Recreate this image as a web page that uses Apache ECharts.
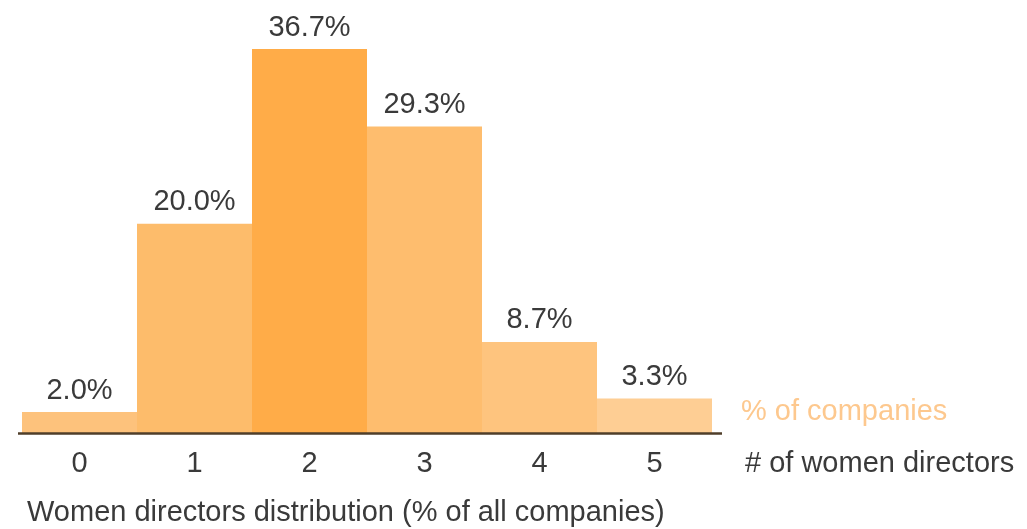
<!DOCTYPE html>
<html>
<head>
<meta charset="utf-8">
<script src="https://cdn.jsdelivr.net/npm/echarts@6/dist/echarts.min.js"></script>
<style>
html,body{margin:0;padding:0;background:#fff;}
#chart{width:1027px;height:529px;}
</style>
</head>
<body>
<div id="chart"></div>
<script>
const categories = ['0', '1', '2', '3', '4', '5'];
const values = [2.0, 20.0, 36.7, 29.3, 8.7, 3.3];
const barColors = ['#FDC27C', '#FDBC6B', '#FFAC48', '#FEBD6E', '#FEC47E', '#FECE94'];
const seriesName = '% of companies';
const xAxisName = '# of women directors';
const chartTitle = 'Women directors distribution (% of all companies)';

const font = 'Liberation Sans, Arial, sans-serif';
const fs = 29;
const chart = echarts.init(document.getElementById('chart'));
chart.setOption({
  animation: false,
  backgroundColor: '#fff',
  title: {
    text: chartTitle,
    left: 27,
    top: 498,
    padding: 0,
    textStyle: { fontFamily: font, fontSize: fs, fontWeight: 'normal', color: '#3a3a3a' }
  },
  legend: {
    data: [{ name: seriesName, icon: 'none' }],
    left: 736,
    top: 397,
    itemWidth: 0,
    itemHeight: 0,
    padding: 0,
    textStyle: { fontFamily: font, fontSize: fs, color: '#FDC88E' },
    selectedMode: false
  },
  grid: { left: 22, right: 315, top: 14.6, bottom: 96, containLabel: false },
  xAxis: {
    type: 'category',
    data: categories,
    name: xAxisName,
    nameLocation: 'end',
    nameGap: 33,
    nameTextStyle: { fontFamily: font, fontSize: fs, color: '#3a3a3a', verticalAlign: 'top', padding: [16, 0, 0, 0] },
    axisLine: { show: false },
    axisTick: { show: false },
    axisLabel: { fontFamily: font, fontSize: fs, color: '#3a3a3a', margin: 16 }
  },
  yAxis: {
    type: 'value',
    min: 0,
    max: 40,
    show: false
  },
  graphic: [{
    type: 'line',
    shape: { x1: 18, y1: 433.5, x2: 722, y2: 433.5 },
    style: { stroke: '#4f3e2a', lineWidth: 2.5 },
    z: 100
  }],
  series: [{
    name: seriesName,
    type: 'bar',
    barCategoryGap: 0,
    data: values.map((v, i) => ({ value: v, itemStyle: { color: barColors[i] } })),
    label: {
      show: true,
      position: 'top',
      distance: 7,
      fontFamily: font,
      fontSize: fs,
      color: '#3a3a3a',
      formatter: p => p.value.toFixed(1) + '%'
    }
  }]
});
</script>
</body>
</html>
